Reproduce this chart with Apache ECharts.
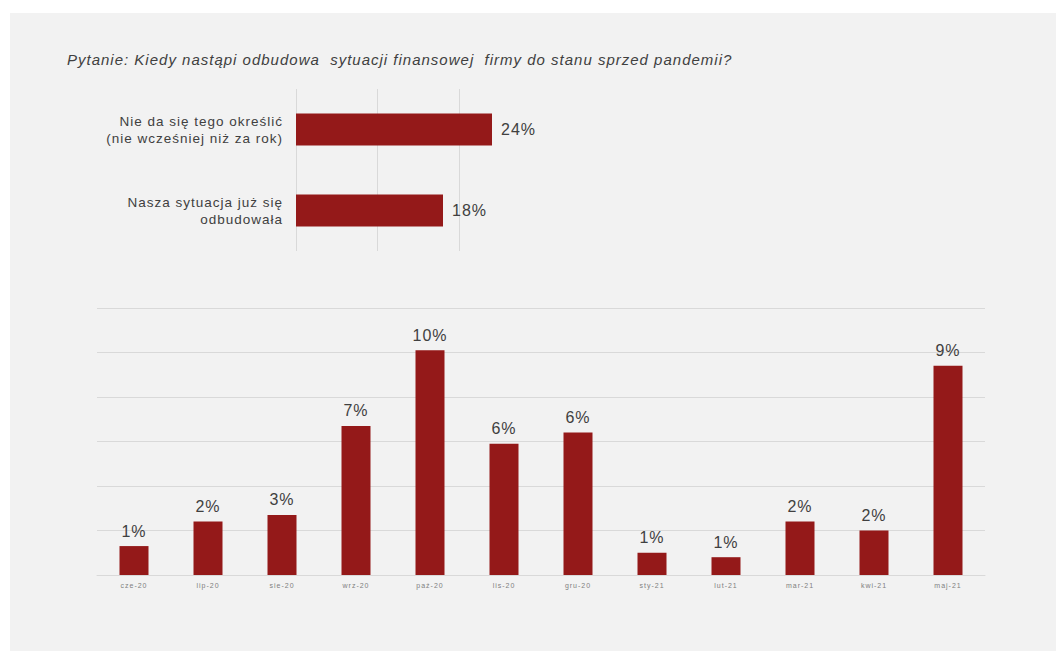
<!DOCTYPE html>
<html>
<head>
<meta charset="utf-8">
<script src="https://cdn.jsdelivr.net/npm/echarts@6/dist/echarts.min.js"></script>
<style>
html,body{margin:0;padding:0;background:#ffffff;}
#panel{position:absolute;left:10px;top:13px;width:1046px;height:638px;background:#f2f2f2;}
#chart{position:absolute;left:0;top:0;width:1056px;height:651px;}
#chart text{letter-spacing:1px;}
</style>
</head>
<body>
<div id="panel"></div>
<div id="chart"></div>
<script>
const titleText = 'Pytanie: Kiedy nastąpi odbudowa  sytuacji finansowej  firmy do stanu sprzed pandemii?';
const topCategories = ['Nie da się tego określić\n(nie wcześniej niż za rok)', 'Nasza sytuacja już się\nodbudowała'];
const topValues = [24, 18];
const months = ['cze-20','lip-20','sie-20','wrz-20','paź-20','lis-20','gru-20','sty-21','lut-21','mar-21','kwi-21','maj-21'];
const monthValues = [1.3, 2.4, 2.7, 6.7, 10.1, 5.9, 6.4, 1.0, 0.8, 2.4, 2.0, 9.4];

const barColor = '#941919';
const font = 'Liberation Sans, Arial, sans-serif';
const chart = echarts.init(document.getElementById('chart'), null, {renderer:'svg'});
chart.setOption({
  backgroundColor: 'transparent',
  animation: false,
  title: {
    text: titleText,
    left: 62, top: 47,
    textStyle: {fontFamily: font, fontStyle: 'italic', fontWeight: 'normal', fontSize: 15, color: '#404040'}
  },
  grid: [
    {left: 296, top: 89, width: 245, height: 162},
    {left: 97, right: 71, top: 308, bottom: 76}
  ],
  xAxis: [
    {gridIndex: 0, type: 'value', min: 0, max: 30, interval: 10,
     axisLabel: {show: false}, axisLine: {show: false}, axisTick: {show: false},
     splitLine: {show: true, showMaxLine: false, lineStyle: {color: '#d9d9d9', width: 1}}},
    {gridIndex: 1, type: 'category', data: months,
     axisLine: {show: true, lineStyle: {color: '#d9d9d9', width: 1}},
     axisTick: {show: false},
     axisLabel: {fontFamily: font, fontSize: 7, color: '#808080', margin: 7}}
  ],
  yAxis: [
    {gridIndex: 0, type: 'category', data: topCategories, inverse: true,
     axisLine: {show: false}, axisTick: {show: false},
     axisLabel: {fontFamily: font, fontSize: 13.5, color: '#404040', lineHeight: 17, margin: 13, align: 'right'}},
    {gridIndex: 1, type: 'value', min: 0, max: 12, interval: 2,
     axisLabel: {show: false}, axisLine: {show: false}, axisTick: {show: false},
     splitLine: {show: true, lineStyle: {color: '#d9d9d9', width: 1}}}
  ],
  series: [
    {type: 'bar', xAxisIndex: 0, yAxisIndex: 0, data: topValues, barWidth: 32,
     itemStyle: {color: barColor},
     label: {show: true, position: 'right', distance: 9, fontFamily: font, fontSize: 16, color: '#404040',
             formatter: p => Math.round(p.value) + '%'}},
    {type: 'bar', xAxisIndex: 1, yAxisIndex: 1, data: monthValues, barWidth: 29,
     itemStyle: {color: barColor},
     label: {show: true, position: 'top', distance: 7, fontFamily: font, fontSize: 16, color: '#404040',
             formatter: p => Math.round(p.value) + '%'}}
  ]
});
</script>
</body>
</html>
